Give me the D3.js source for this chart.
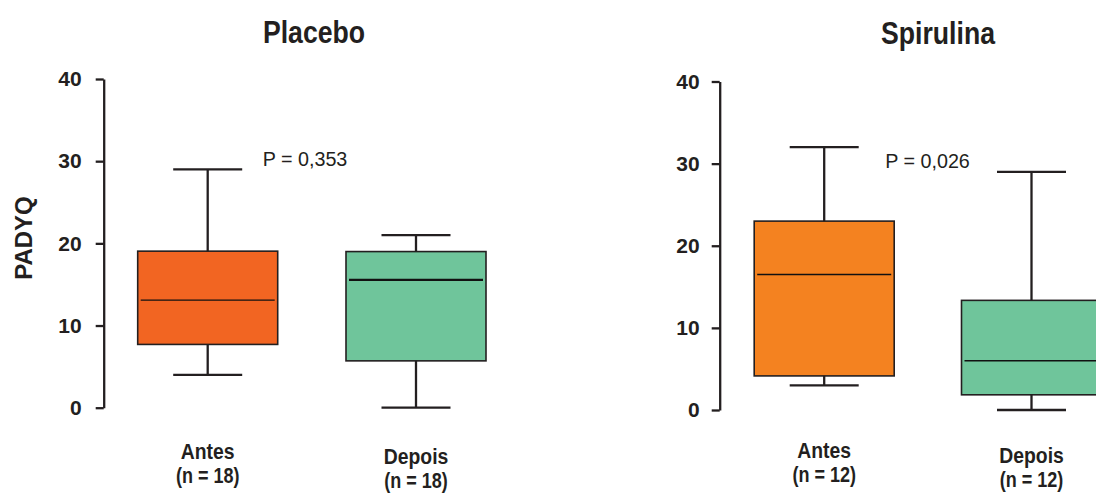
<!DOCTYPE html>
<html>
<head>
<meta charset="utf-8">
<script src="https://cdn.jsdelivr.net/npm/d3@7"></script>
<style>
  body { margin: 0; background: #fff; }
  svg { display: block; }
  .narrow { font-family: 'Liberation Sans', Arial, sans-serif; font-weight: bold; fill: #231f20; }
</style>
</head>
<body>
<div id="chart"></div>
<script>
// values
const panels = ['Placebo', 'Spirulina']
const groups = ['Antes', 'Depois']
const counts = [[18, 18], [12, 12]]
const pLabels = ['P = 0,353', 'P = 0,026']
const yTicks = [0, 10, 20, 30, 40]

const placeboMin = [4, 0]
const placeboQ1 = [7.7, 5.7]
const placeboMedian = [13.1, 15.55]
const placeboQ3 = [19.05, 19.0]
const placeboMax = [29, 21]

const spirulinaMin = [3, 0]
const spirulinaQ1 = [4.15, 1.85]
const spirulinaMedian = [16.5, 6.0]
const spirulinaQ3 = [23.0, 13.35]
const spirulinaMax = [32, 29]

const boxColors = [['#f26522', '#6fc59b'], ['#f48220', '#6fc59b']]

const stats = [
  groups.map((g, i) => ({ group: g, min: placeboMin[i], q1: placeboQ1[i], median: placeboMedian[i], q3: placeboQ3[i], max: placeboMax[i], n: counts[0][i] })),
  groups.map((g, i) => ({ group: g, min: spirulinaMin[i], q1: spirulinaQ1[i], median: spirulinaMedian[i], q3: spirulinaQ3[i], max: spirulinaMax[i], n: counts[1][i] }))
]

const width = 1096
const height = 495
const ink = '#231f20'

// per panel layout
const layout = [
  { axisX: 103.7, xRange: [207.7, 416], yRange: [407.7, 79], titleX: 314, titleY: 43, pDx: 55, pDy: 5, medianW: [1.3, 2.2], tickPad: 14, labelY: 459 },
  { axisX: 719.7, xRange: [824.2, 1031.5], yRange: [410, 81.5], titleX: 938, titleY: 44, pDx: 61, pDy: 4, medianW: [1.3, 1.3], tickPad: 12, labelY: 458 }
]

const boxHalf = 70
const capHalf = 34.5

// no narrow font installed, so squeeze the bold face horizontally
const squeeze = (sel, sx) => sel.attr('transform', function () {
  const t = d3.select(this)
  const px = +t.attr('x'), py = +t.attr('y')
  t.attr('x', 0).attr('y', 0)
  return `translate(${px},${py}) scale(${sx},1)`
})

const svg = d3.select('#chart')
  .append('svg')
  .attr('width', width)
  .attr('height', height)
  .attr('viewBox', [0, 0, width, height])

panels.forEach((name, p) => {
  const L = layout[p]
  const x = d3.scalePoint().domain(groups).range(L.xRange)
  const y = d3.scaleLinear().domain([0, 40]).range(L.yRange)
  const g = svg.append('g')

  g.append('text')
    .attr('class', 'narrow')
    .attr('x', L.titleX)
    .attr('y', L.titleY)
    .attr('text-anchor', 'middle')
    .attr('font-size', 31)
    .text(name)
    .call(squeeze, 0.86)

  g.append('g')
    .attr('transform', `translate(${L.axisX},0)`)
    .call(d3.axisLeft(y).tickValues(yTicks).tickSize(8).tickSizeOuter(0).tickPadding(L.tickPad))
    .call((a) => a.selectAll('path, line').attr('stroke', ink).attr('stroke-width', 2.3))
    .call((a) => a.selectAll('text')
      .attr('fill', ink)
      .attr('font-family', "'Liberation Sans', Arial, sans-serif")
      .attr('font-weight', 'bold')
      .attr('font-size', 21))

  const box = g.selectAll('.box')
    .data(stats[p])
    .join('g')
    .attr('class', 'box')

  // whiskers
  box.append('line')
    .attr('x1', (d) => x(d.group)).attr('x2', (d) => x(d.group))
    .attr('y1', (d) => y(d.max)).attr('y2', (d) => y(d.min))
    .attr('stroke', ink).attr('stroke-width', 2.3)
  box.selectAll('.cap')
    .data((d) => [d.min, d.max].map((v) => ({ group: d.group, v })))
    .join('line')
    .attr('class', 'cap')
    .attr('x1', (d) => x(d.group) - capHalf).attr('x2', (d) => x(d.group) + capHalf)
    .attr('y1', (d) => y(d.v)).attr('y2', (d) => y(d.v))
    .attr('stroke', ink).attr('stroke-width', 2.3)

  box.append('rect')
    .attr('x', (d) => x(d.group) - boxHalf)
    .attr('width', boxHalf * 2)
    .attr('y', (d) => y(d.q3))
    .attr('height', (d) => y(d.q1) - y(d.q3))
    .attr('fill', (d, i) => boxColors[p][i])
    .attr('stroke', ink)
    .attr('stroke-width', 1.6)

  box.append('line')
    .attr('x1', (d) => x(d.group) - boxHalf + 3).attr('x2', (d) => x(d.group) + boxHalf - 3)
    .attr('y1', (d) => y(d.median)).attr('y2', (d) => y(d.median))
    .attr('stroke', '#111').attr('stroke-width', (d, i) => L.medianW[i])

  // category labels, the second one sits a little lower
  box.append('text')
    .attr('class', 'narrow')
    .attr('x', (d) => x(d.group))
    .attr('y', (d, i) => L.labelY + i * 5)
    .attr('text-anchor', 'middle')
    .attr('font-size', 22)
    .text((d) => d.group)
    .call(squeeze, 0.88)
  box.append('text')
    .attr('class', 'narrow')
    .attr('x', (d) => x(d.group))
    .attr('y', (d, i) => L.labelY + 24 + i * 5)
    .attr('text-anchor', 'middle')
    .attr('font-size', 22)
    .text((d) => `(n = ${d.n})`)
    .call(squeeze, 0.82)

  g.append('text')
    .attr('x', x(groups[0]) + L.pDx)
    .attr('y', y(30) + L.pDy)
    .attr('font-family', "'Liberation Sans', Arial, sans-serif")
    .attr('font-size', 21)
    .attr('fill', ink)
    .text(pLabels[p])
    .call(squeeze, 0.94)
})

svg.append('text')
  .attr('transform', 'translate(32,238) rotate(-90)')
  .attr('text-anchor', 'middle')
  .attr('font-family', "'Liberation Sans', Arial, sans-serif")
  .attr('font-weight', 'bold')
  .attr('font-size', 24)
  .attr('fill', ink)
  .text('PADYQ')
</script>
</body>
</html>
